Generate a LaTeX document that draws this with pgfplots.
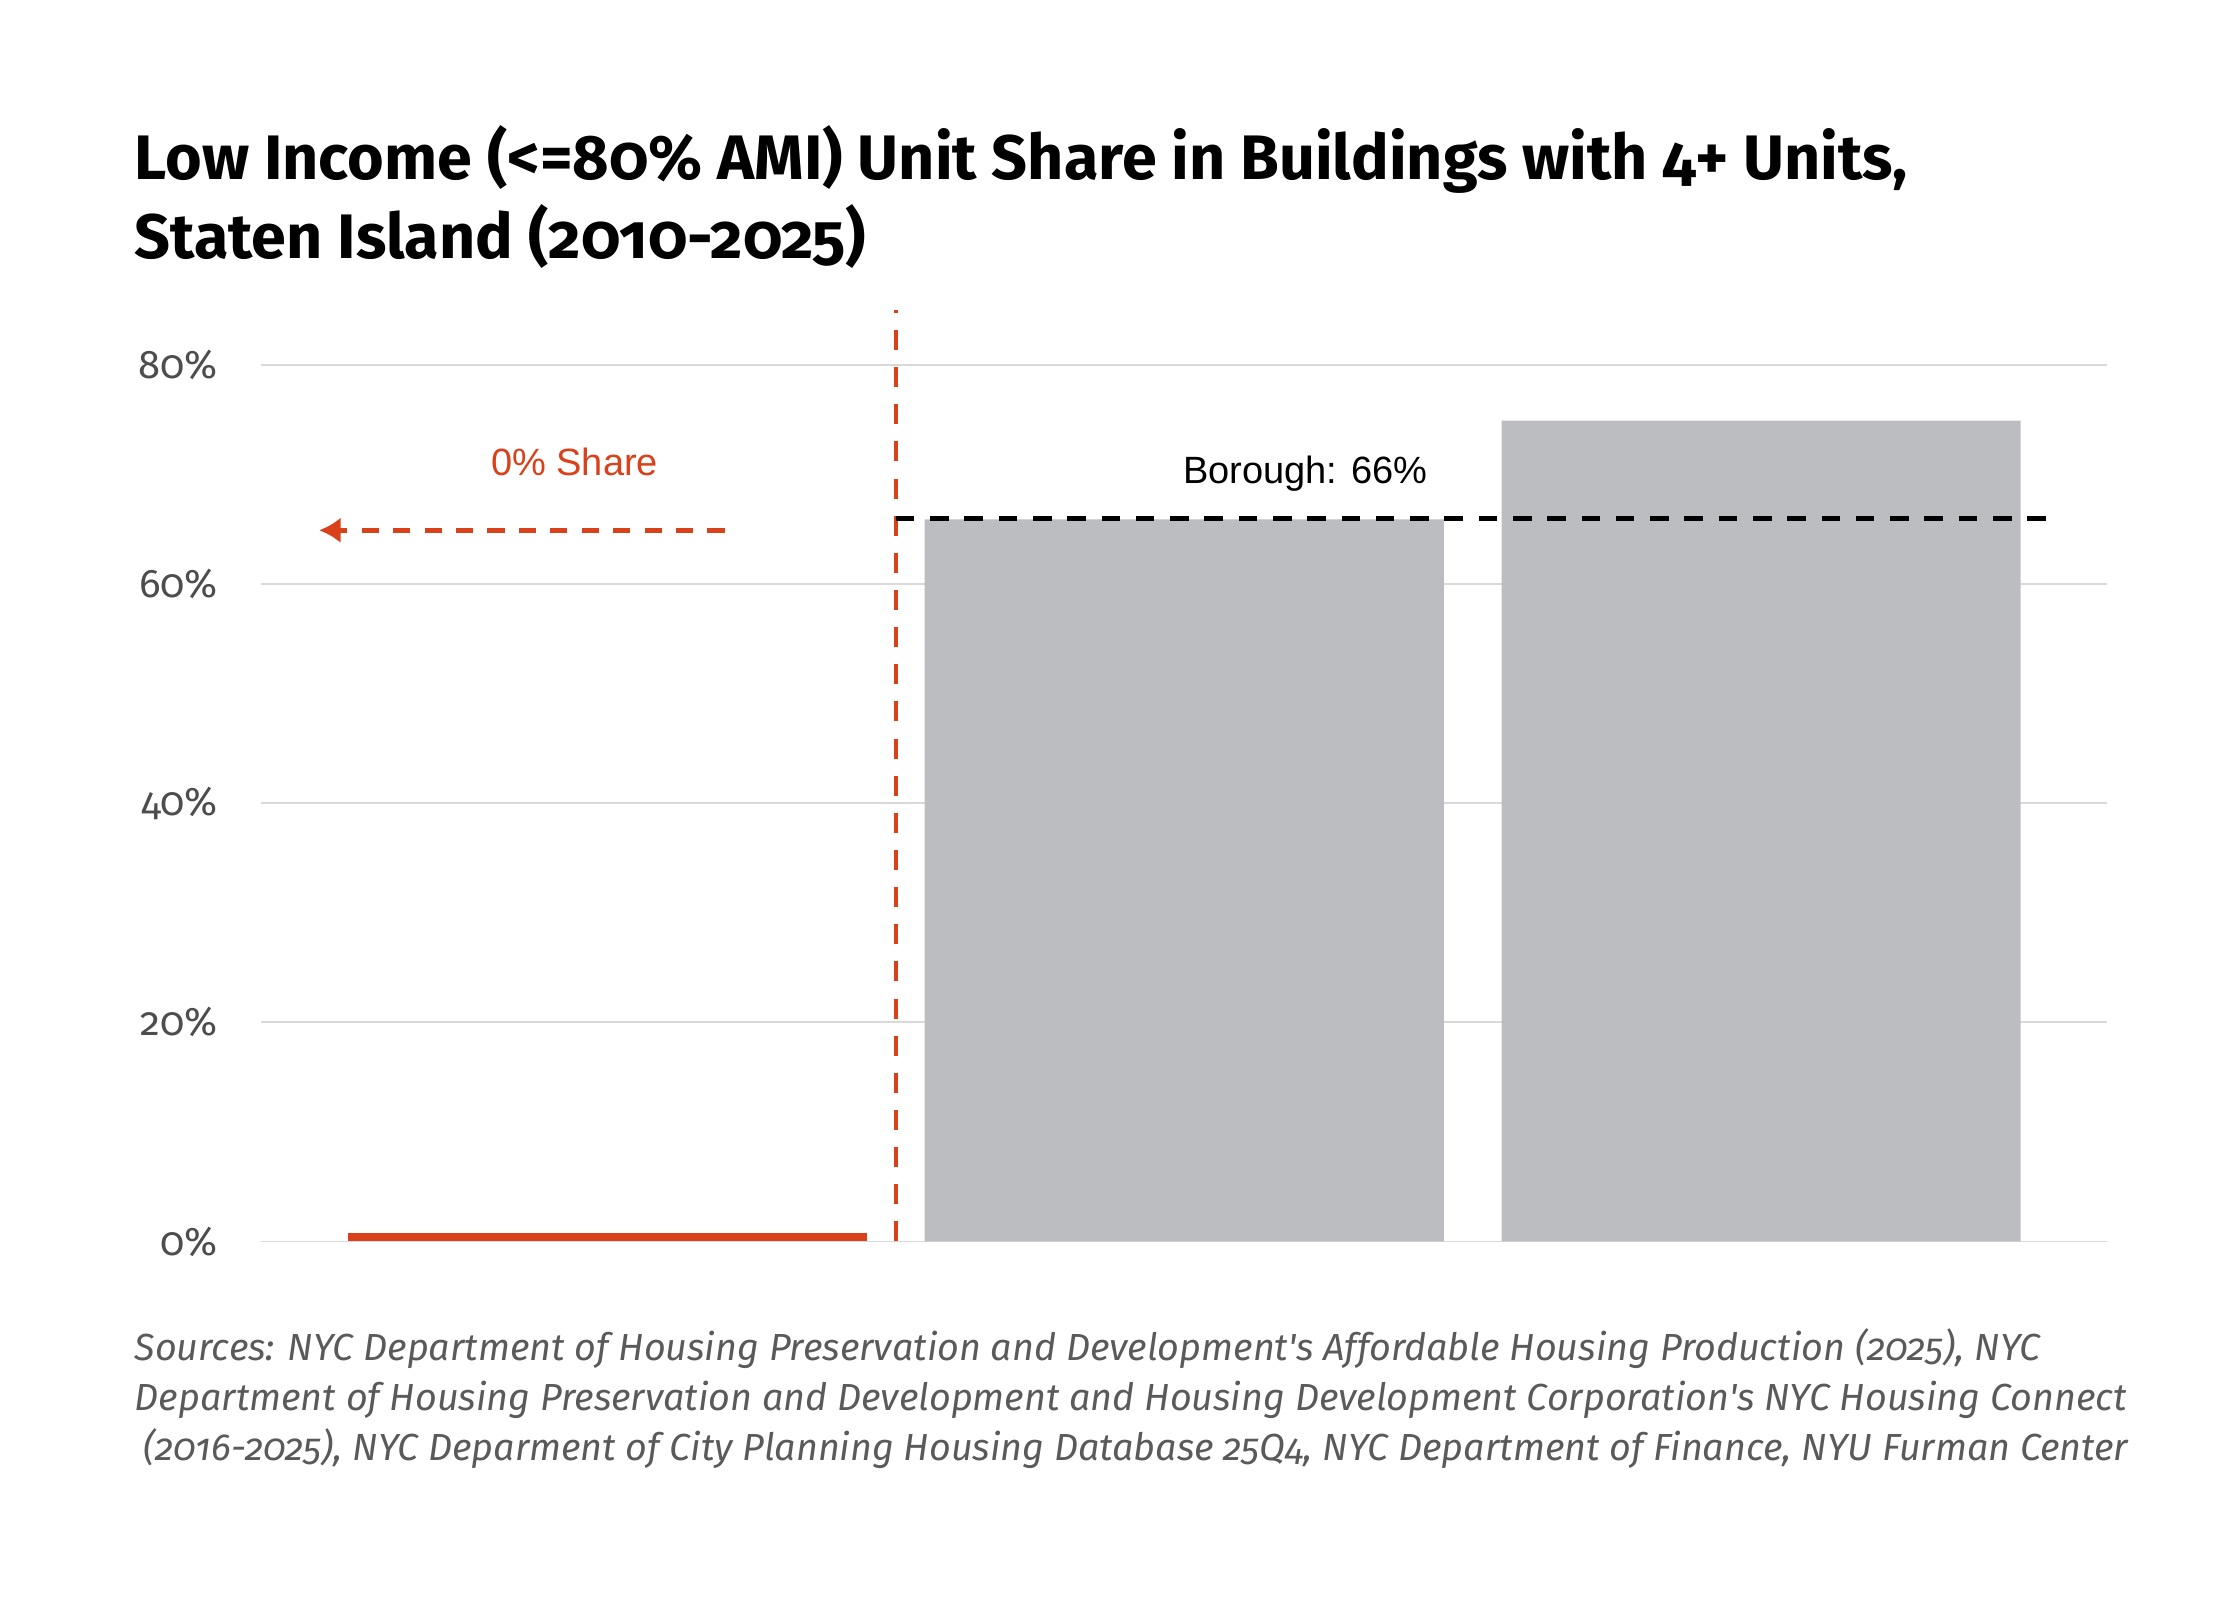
\documentclass[border=0pt]{standalone}
\usepackage{pgfplots}
\pgfplotsset{compat=1.18}
\usepackage{fontspec}
\usetikzlibrary{arrows.meta}
\setmainfont{Fira Sans}[Numbers=OldStyle]
\newfontfamily\titlefont{Fira Sans}[Numbers=OldStyle]
\newfontfamily\arialfont{Liberation Sans}
\definecolor{accred}{HTML}{D9411A}
\definecolor{bargray}{HTML}{BCBDC1}
\definecolor{gridgray}{HTML}{D9D9D9}
\definecolor{ticktext}{HTML}{4D4D4D}
\definecolor{srctext}{HTML}{5A5A5A}
\begin{document}
\begin{tikzpicture}
\useasboundingbox (-91.5pt,-125.5pt) rectangle (692.5pt,434.5pt);
\begin{axis}[
  at={(0,0)}, anchor=south west,
  scale only axis, width=646pt, height=326pt,
  xmin=-0.6, xmax=2.6, ymin=0, ymax=85,
  axis line style={draw=none},
  major tick length=0pt,
  xtick=\empty,
  ytick={0,20,40,60,80},
  ymajorgrids, grid style={gridgray, line width=0.6pt},
  /pgf/number format/assume math mode=true,
  yticklabel={\pgfmathprintnumber{\tick}\%},
  yticklabel style={font=\fontsize{14}{16}\selectfont, text=ticktext, inner sep=0pt, anchor=east, xshift=-15pt},
  clip=false,
]
\addplot[ybar, bar width=0.9, bar shift=0pt, fill=accred, draw=none] coordinates {(0,0.8)};
\addplot[ybar, bar width=0.9, bar shift=0pt, fill=bargray, draw=none] coordinates {(1,65.9) (2,74.9)};
\addplot[accred, line width=1.2pt, dash pattern=on 7pt off 6pt] coordinates {(0.5,0) (0.5,85)};
\addplot[black, line width=1.8pt, dash pattern=on 6.5pt off 5.5pt] coordinates {(0.5,66) (2.5,66)};
\addplot[accred, line width=1.6pt, dash pattern=on 6pt off 5pt, -{Latex[length=7.5pt,width=9pt]}] coordinates {(0.203,64.9) (-0.50,64.9)};
\node[font=\arialfont\fontsize{13.3}{15}\selectfont, text=black] at (axis cs:1.21,70.1) {Borough: 66\%};
\node[font=\arialfont\fontsize{13.3}{15}\selectfont, text=accred] at (axis cs:-0.057,71.1) {0\% Share};
\end{axis}
\node[anchor=base west, inner sep=0pt, font=\titlefont\bfseries\fontsize{22}{26}\selectfont] at (-44.5pt,371.5pt) {Low Income (<=80\% AMI) Unit Share in Buildings with 4+ Units,};
\node[anchor=base west, inner sep=0pt, font=\titlefont\bfseries\fontsize{22}{26}\selectfont] at (-44.5pt,343.9pt) {Staten Island (2010-2025)};
\node[anchor=base west, inner sep=0pt, text=srctext, font=\itshape\fontsize{13.2}{15}\selectfont] at (-44.5pt,-41.5pt) {Sources: NYC Department of Housing Preservation and Development\textquotesingle s Affordable Housing Production (2025), NYC};
\node[anchor=base west, inner sep=0pt, text=srctext, font=\itshape\fontsize{13.2}{15}\selectfont] at (-44.5pt,-59pt) {Department of Housing Preservation and Development and Housing Development Corporation\textquotesingle s NYC Housing Connect};
\node[anchor=base west, inner sep=0pt, text=srctext, font=\itshape\fontsize{13.2}{15}\selectfont] at (-41.5pt,-76.5pt) {(2016-2025), NYC Deparment of City Planning Housing Database 25Q4, NYC Department of Finance, NYU Furman Center};
\end{tikzpicture}
\end{document}
